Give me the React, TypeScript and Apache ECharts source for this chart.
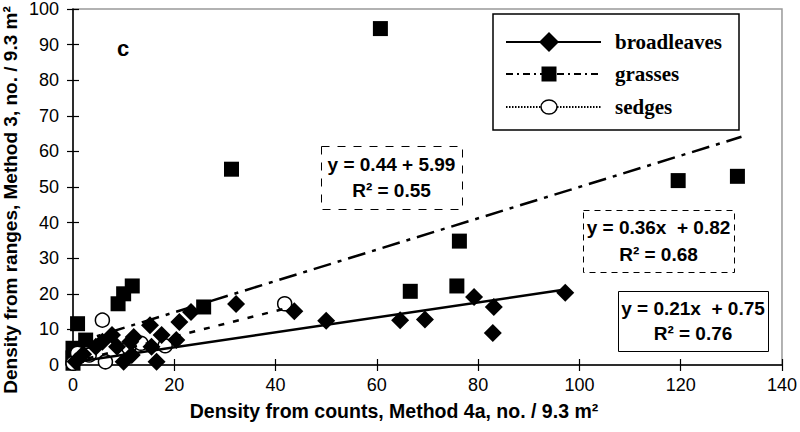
import React, { useEffect, useRef } from "react";
import * as echarts from "echarts";

// ---- data ----
const broadleaves: [number, number][] = [
  [0.5, 1], [2, 3], [4.5, 5.1], [5.8, 6.5], [7.7, 8.4], [8.7, 5.1], [10, 0.9],
  [11.3, 6.5], [11.6, 2.8], [12, 7.9], [15.2, 11.2], [15.5, 5.1], [16.5, 0.9],
  [17.5, 8.4], [20.4, 7.0], [21, 12.1], [23.3, 14.9], [32.2, 17.1], [43.7, 15.1],
  [50, 12.4], [64.6, 12.6], [69.5, 12.8], [79.2, 19.1], [83.1, 16.3], [82.9, 9.0],
  [97.2, 20.3],
];
const grasses: [number, number][] = [
  [0, 0.5], [0, 2], [0, 4.7], [0.9, 11.6], [2.5, 7], [8.9, 17.2], [10, 20],
  [11.7, 22.2], [25.8, 16.3], [31.3, 55], [60.7, 94.5], [66.6, 20.7], [75.8, 22.2],
  [76.3, 34.8], [119.5, 51.8], [131.2, 53],
];
const sedges: [number, number][] = [
  [0, 0.5], [0.9, 3.3], [3.2, 2.8], [5.8, 12.6], [6.4, 0.9], [11, 4.9],
  [13.4, 6.1], [18.2, 5.4], [41.8, 17.2],
];
// trend line end points
const broadleavesFit: [number, number][] = [[0, 0.75], [97.2, 21.2]];
const grassesFit: [number, number][] = [[0, 6.0], [132, 64.1]];
const sedgesFit: [number, number][] = [[0, 0.8], [42, 15.9]];

const legendNames = ["broadleaves", "grasses", "sedges"];
const eqTexts = [
  ["y = 0.44 + 5.99", "R² = 0.55"],
  ["y = 0.36x  + 0.82", "R² = 0.68"],
  ["y = 0.21x  + 0.75", "R² = 0.76"],
];
const xTitle = "Density from counts, Method 4a, no. / 9.3 m²";
const yTitle = "Density from ranges, Method 3, no. / 9.3 m²";
const panelLabel = "c";

const SANS = '"Liberation Sans", Arial, sans-serif';
const SERIF = '"Liberation Serif", "Times New Roman", serif';

export default function App() {
  const ref = useRef<HTMLDivElement>(null);
  useEffect(() => {
    if (!ref.current) return;
    const chart = echarts.init(ref.current, undefined, { renderer: "svg" });

    const baseX = {
      type: "value",
      min: 0,
      max: 140,
      interval: 20,
      position: "bottom",
      splitLine: { show: false },
    };
    const baseY = {
      type: "value",
      min: 0,
      max: 100,
      interval: 10,
      position: "left",
      splitLine: { show: false },
    };

    const eqBox = (
      x: number, y: number, w: number, h: number, dash: number[] | null,
      lines: string[]
    ) => ({
      type: "group",
      children: [
        {
          type: "rect",
          shape: { x: x + 0.5, y: y + 0.5, width: w, height: h },
          style: {
            fill: "#fff",
            stroke: "#000",
            lineWidth: 1,
            lineDash: dash || undefined,
          },
        },
        {
          type: "text",
          style: {
            text: lines[0],
            x: x + w / 2,
            y: y + h * 0.29,
            textAlign: "center",
            textVerticalAlign: "middle",
            font: `bold 19px ${SANS}`,
            fill: "#000",
          },
        },
        {
          type: "text",
          style: {
            text: lines[1],
            x: x + w / 2,
            y: y + h * 0.71,
            textAlign: "center",
            textVerticalAlign: "middle",
            font: `bold 19px ${SANS}`,
            fill: "#000",
          },
        },
      ],
    });

    const legendRowY = [42, 74, 107];
    const lx1 = 506, lx2 = 601, lmx = 549, ltx = 615;

    const option: any = {
      animation: false,
      grid: {
        left: 73, right: 13, top: 7, bottom: 67,
        show: true, borderColor: "#999", borderWidth: 1.5,
      },
      xAxis: [
        {
          ...baseX,
          axisLine: { show: true, lineStyle: { color: "#000", width: 1.5 } },
          axisTick: { show: true, inside: false, length: 6, lineStyle: { color: "#000", width: 1.2 } },
          axisLabel: { color: "#000", fontSize: 18, fontFamily: SANS, margin: 11 },
        },
        {
          ...baseX,
          axisLine: { show: false },
          axisTick: { show: true, inside: true, length: 6, lineStyle: { color: "#000", width: 1.2 } },
          axisLabel: { show: false },
        },
      ],
      yAxis: [
        {
          ...baseY,
          axisLine: { show: true, lineStyle: { color: "#000", width: 1.5 } },
          axisTick: { show: true, inside: false, length: 6, lineStyle: { color: "#000", width: 1.2 } },
          axisLabel: { color: "#000", fontSize: 18, fontFamily: SANS, margin: 14 },
        },
        {
          ...baseY,
          axisLine: { show: false },
          axisTick: { show: true, inside: true, length: 6, lineStyle: { color: "#000", width: 1.2 } },
          axisLabel: { show: false },
        },
      ],
      series: [
        {
          type: "scatter",
          name: legendNames[1],
          data: grasses,
          symbol: "rect",
          symbolSize: 15,
          itemStyle: { color: "#000", opacity: 1 },
          z: 2,
        },
        {
          type: "scatter",
          name: legendNames[2],
          data: sedges,
          symbol: "circle",
          symbolSize: 14,
          itemStyle: { color: "#fff", borderColor: "#000", borderWidth: 1.5, opacity: 1 },
          z: 3,
        },
        {
          type: "scatter",
          name: legendNames[0],
          data: broadleaves,
          symbol: "diamond",
          symbolSize: [18, 18],
          itemStyle: { color: "#000", opacity: 1 },
          z: 4,
        },
        {
          type: "line",
          data: broadleavesFit,
          symbol: "none",
          lineStyle: { color: "#000", width: 2.5, type: "solid" },
          z: 5,
        },
        {
          type: "line",
          data: grassesFit,
          symbol: "none",
          lineStyle: { color: "#000", width: 2.5, type: [18, 7, 4, 7] },
          z: 5,
        },
        {
          type: "line",
          data: sedgesFit,
          symbol: "none",
          lineStyle: { color: "#000", width: 2.5, type: [6, 9] },
          z: 5,
        },
      ],
      graphic: [
        // axis titles
        {
          type: "text",
          style: {
            text: xTitle, x: 394, y: 411, textAlign: "center", textVerticalAlign: "middle",
            font: `bold 19.5px ${SANS}`, fill: "#000",
          },
        },
        {
          type: "text",
          x: 10, y: 200, rotation: Math.PI / 2,
          style: {
            text: yTitle, x: 0, y: 0, textAlign: "center", textVerticalAlign: "middle",
            font: `bold 19px ${SANS}`, fill: "#000",
          },
        },
        {
          type: "text",
          style: {
            text: panelLabel, x: 123, y: 48, textAlign: "center", textVerticalAlign: "middle",
            font: `bold 22px ${SANS}`, fill: "#000",
          },
        },
        // equation boxes
        eqBox(321, 146, 141, 63, [8, 8], eqTexts[0]),
        eqBox(583, 210, 151, 62, [6, 5], eqTexts[1]),
        eqBox(618, 291, 150, 60, null, eqTexts[2]),
        // legend
        {
          type: "rect",
          shape: { x: 493, y: 14, width: 246, height: 116 },
          style: { fill: "#fff", stroke: "#000", lineWidth: 1.5 },
        },
        {
          type: "line",
          shape: { x1: lx1, y1: legendRowY[0], x2: lx2, y2: legendRowY[0] },
          style: { stroke: "#000", lineWidth: 2 },
        },
        {
          type: "polygon",
          shape: {
            points: [
              [lmx, legendRowY[0] - 10], [lmx + 10, legendRowY[0]],
              [lmx, legendRowY[0] + 10], [lmx - 10, legendRowY[0]],
            ],
          },
          style: { fill: "#000" },
        },
        {
          type: "line",
          shape: { x1: lx1, y1: legendRowY[1], x2: lx2, y2: legendRowY[1] },
          style: { stroke: "#000", lineWidth: 2, lineDash: [7, 4, 2, 4] },
        },
        {
          type: "rect",
          shape: { x: lmx - 7.5, y: legendRowY[1] - 7.5, width: 15, height: 15 },
          style: { fill: "#000" },
        },
        {
          type: "line",
          shape: { x1: lx1, y1: legendRowY[2], x2: lx2, y2: legendRowY[2] },
          style: { stroke: "#000", lineWidth: 2, lineDash: [1.5, 1.5] },
        },
        {
          type: "ellipse",
          shape: { cx: lmx, cy: legendRowY[2], rx: 8, ry: 7 },
          style: { fill: "#fff", stroke: "#000", lineWidth: 1.5 },
        },
        ...legendNames.map((n, i) => ({
          type: "text",
          style: {
            text: n, x: ltx, y: legendRowY[i], textAlign: "left", textVerticalAlign: "middle",
            font: `bold 21px ${SERIF}`, fill: "#000",
          },
        })),
      ],
    };
    chart.setOption(option);
    return () => chart.dispose();
  }, []);

  return <div ref={ref} style={{ width: 800, height: 432, position: "absolute", left: 0, top: 0 }} />;
}
